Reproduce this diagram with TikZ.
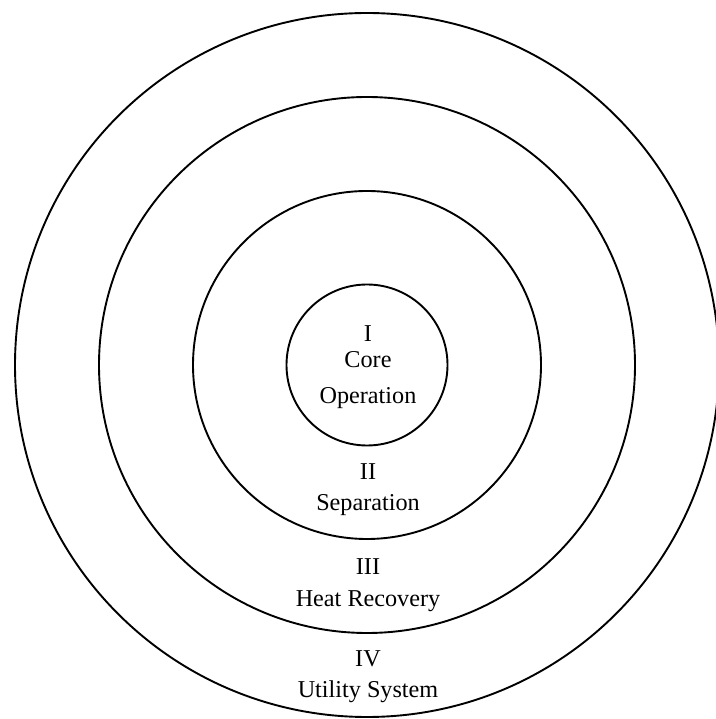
\documentclass[tikz,border=0pt]{standalone}
\usepackage{fontspec}
\setmainfont{Liberation Serif}
\usepackage{tikz}
\usetikzlibrary{positioning}

\begin{document}
\begin{tikzpicture}[line join=bevel,
  ring/.style={circle,draw,line width=0.95bp,inner sep=0pt},
  lbl/.style={anchor=base,inner sep=0pt,font=\fontsize{12.1bp}{14bp}\selectfont}]
%%
\useasboundingbox (0bp,0bp) rectangle (358bp,359.5bp);
\clip (0bp,0bp) rectangle (358bp,359.5bp);
\node (ring_4) at (183.5bp,177bp) [ring,minimum size=352bp] {};
  \node (ring_3) at (183.5bp,177bp) [ring,minimum size=268bp] {};
  \node (ring_2) at (183.5bp,177bp) [ring,minimum size=174bp] {};
  \node (ring_1) at (183.5bp,177bp) [ring,minimum size=80.5bp] {};
  \node (num_1) at (184bp,188.5bp) [lbl] {I};
  \node (name_1a) at (184bp,175.5bp) [lbl] {Core};
  \node (name_1b) at (184bp,157.5bp) [lbl] {Operation};
  \node (num_2) at (184bp,119.5bp) [lbl] {II};
  \node (name_2) at (184bp,104bp) [lbl] {Separation};
  \node (num_3) at (184bp,72bp) [lbl] {III};
  \node (name_3) at (184bp,56bp) [lbl] {Heat Recovery};
  \node (num_4) at (184bp,26.5bp) [lbl] {IV};
  \node (name_4) at (184bp,11bp) [lbl] {Utility System};
%
\end{tikzpicture}
\end{document}
